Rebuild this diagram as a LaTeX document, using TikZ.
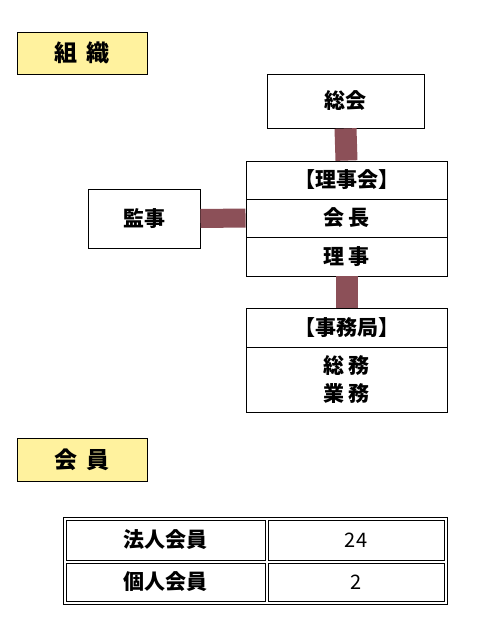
\documentclass[tikz,border=0pt]{standalone}
\usepackage{fontspec}
\newfontfamily\jp{Noto Sans CJK JP}
\definecolor{titlefill}{HTML}{FFF29E}
\definecolor{connfill}{HTML}{8C5058}
\begin{document}
\begin{tikzpicture}[x=1pt,y=-1pt,
  every node/.style={font=\jp\bfseries\fontsize{21}{24}\selectfont, inner sep=0pt, anchor=center},
  titlebox/.style={draw=black, line width=0.9pt, fill=titlefill, minimum width=130pt, minimum height=42pt, font=\jp\bfseries\fontsize{23}{26}\selectfont},
  orgbox/.style={draw=black, line width=0.9pt, fill=white, minimum width=#1pt},
  cell/.style={draw=black, line width=0.8pt, minimum height=40pt},
  numcell/.style={cell, font=\jp\fontsize{20}{24}\selectfont},
  conn/.style={draw=connfill, line width=22pt},
  connh/.style={draw=connfill, line width=19pt}
]
\useasboundingbox (0,0) rectangle (495,624);
% title 1
\node[titlebox] (t1) at (82,53) {組\hspace{0.35em}織};
% org chart
\node[orgbox=157, minimum height=54pt] (sokai) at (345.5,101) {総会};
\node[orgbox=201, minimum height=38pt] (r1) at (346.5,180) {【理事会】};
\node[orgbox=201, minimum height=38pt] (r2) at (346.5,218) {会 長};
\node[orgbox=201, minimum height=39pt] (r3) at (346.5,256.5) {理 事};
\node[orgbox=112, minimum height=59pt] (kanji) at (144,218.5) {監事};
\node[orgbox=201, minimum height=39pt] (j1) at (346.5,327.5) {【事務局】};
\node[orgbox=201, minimum height=65pt, align=center] (j2) at (346.5,379.5) {総 務\\[4pt]業 務};
\draw[conn] (sokai.south) -- (r1.north);
\draw[conn] (r3.south) -- (j1.north);
\draw[connh] (kanji.east) -- (r2.west);
% title 2
\node[titlebox, minimum height=43pt] (t2) at (82,459.5) {会\hspace{0.35em}員};
% table
\node[draw=black, line width=0.8pt, minimum width=384pt, minimum height=87pt] (tbl) at (255,560.5) {};
\node[cell, minimum width=199pt] (c11) at (165.5,540) {法人会員};
\node[numcell, minimum width=176pt] (c12) at (356,540) {24};
\node[cell, minimum width=199pt, minimum height=38pt] (c21) at (165.5,582) {個人会員};
\node[numcell, minimum width=176pt, minimum height=38pt] (c22) at (356,582) {2};
\end{tikzpicture}
\end{document}
